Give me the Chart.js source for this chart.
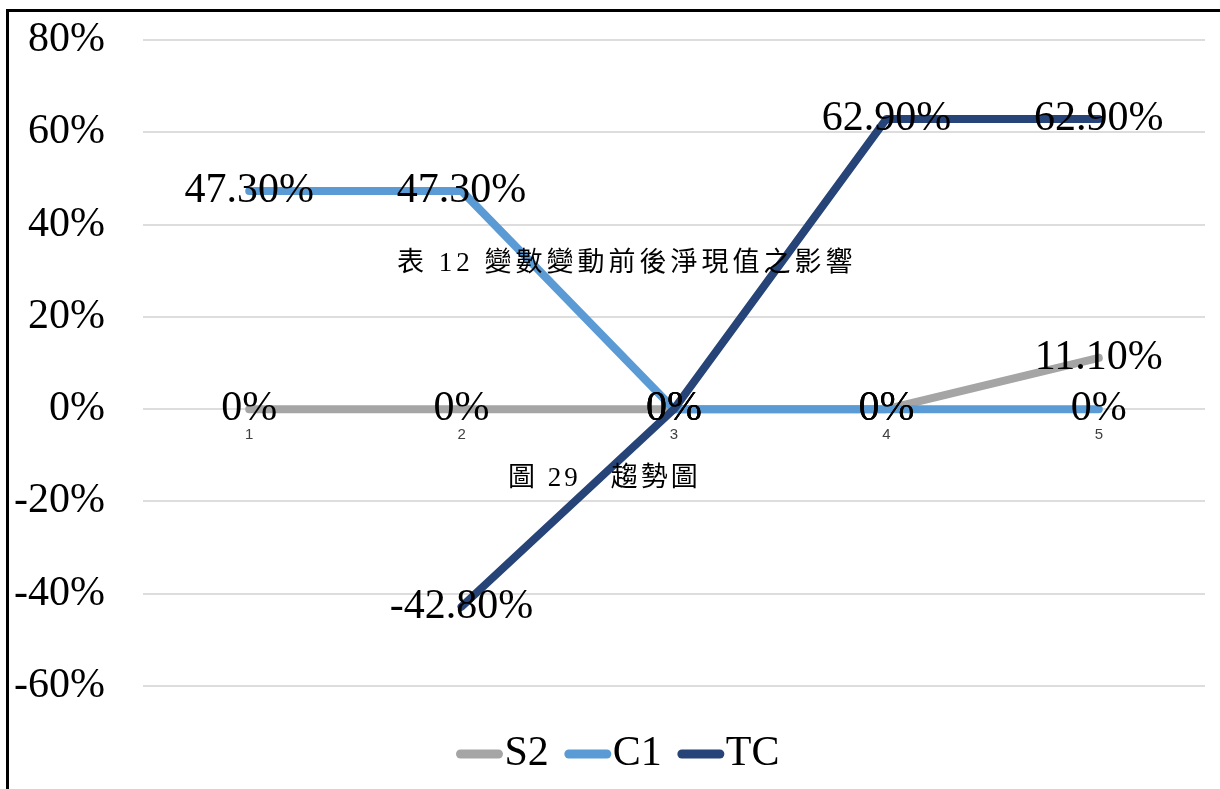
<!DOCTYPE html>
<html lang="zh-Hant">
<head>
<meta charset="utf-8">
<title>趨勢圖</title>
<script src="https://cdn.jsdelivr.net/npm/chart.js@4.4.1/dist/chart.umd.min.js"></script>
<style>
    html, body { margin: 0; padding: 0; background: #fff; overflow: hidden; }
    #wrap { position: relative; width: 1220px; height: 789px; overflow: hidden; }
    #frame {
        position: absolute; left: 6px; top: 9px; width: 1300px; height: 900px;
        border: 3px solid #000; box-sizing: border-box; pointer-events: none;
    }
    .caption {
        position: absolute; font-family: "Liberation Serif", "Noto Sans CJK TC", serif;
        font-size: 27px; line-height: 27px; color: #000; white-space: pre;
    }
</style>
</head>
<body>
<div id="wrap">
    <canvas id="trendChart"></canvas>
    <div id="frame"></div>
    <div class="caption" style="left:397px; top:249px; letter-spacing:4px;">表 12 變數變動前後淨現值之影響</div>
    <div class="caption" style="left:508px; top:464px; letter-spacing:3px;">圖 29　趨勢圖</div>
</div>
<script>
// data (percent)
const categories = ['1', '2', '3', '4', '5'];
const s2Values = [0, 0, 0, 0, 11.1];
const c1Values = [47.3, 47.3, 0, 0, 0];
const tcValues = [null, -42.8, 0, 62.9, 62.9];
const yTicks = [-60, -40, -20, 0, 20, 40, 60, 80];

const lineColors = ['#A5A5A5', '#5B9BD5', '#264478'];
const serifFont = "'Liberation Serif', 'Times New Roman', serif";
const textSize = 42;

function formatPercent(v) {
    return v === 0 ? '0%' : v.toFixed(2) + '%';
}

// value printed in the middle of each point
const pointLabels = {
    id: 'pointLabels',
    afterDatasetsDraw(chart) {
        const ctx = chart.ctx;
        ctx.save();
        ctx.font = textSize + 'px ' + serifFont;
        ctx.fillStyle = '#000';
        ctx.textAlign = 'center';
        ctx.textBaseline = 'middle';
        chart.data.datasets.forEach((ds, i) => {
            const meta = chart.getDatasetMeta(i);
            meta.data.forEach((pt, j) => {
                const v = ds.data[j];
                if (v === null) return;
                ctx.fillText(formatPercent(v), pt.x, pt.y);
            });
        });
        ctx.restore();
    }
};

// legend with short round-capped line samples, text right next to them
const lineLegend = {
    id: 'lineLegend',
    afterDraw(chart) {
        const ctx = chart.ctx;
        const sampleLen = 42;
        const gap = 6;
        const spacing = 16;
        ctx.save();
        ctx.font = textSize + 'px ' + serifFont;
        const items = chart.data.datasets.map(ds => ({
            text: ds.label,
            color: ds.borderColor,
            width: sampleLen + gap + ctx.measureText(ds.label).width
        }));
        const total = items.reduce((sum, it) => sum + it.width, 0) + spacing * (items.length - 1);
        let x = chart.width / 2 + 8 - total / 2;
        const y = chart.chartArea.bottom + 68;
        ctx.textBaseline = 'middle';
        ctx.textAlign = 'left';
        items.forEach(it => {
            ctx.beginPath();
            ctx.lineWidth = 9;
            ctx.lineCap = 'round';
            ctx.strokeStyle = it.color;
            ctx.moveTo(x + 4, y);
            ctx.lineTo(x + sampleLen, y);
            ctx.stroke();
            ctx.fillStyle = '#000';
            ctx.fillText(it.text, x + sampleLen + gap, y);
            x += it.width + spacing;
        });
        ctx.restore();
    }
};

new Chart(document.getElementById('trendChart'), {
    type: 'line',
    data: {
        labels: categories,
        datasets: [
            { label: 'S2', data: s2Values, borderColor: lineColors[0], backgroundColor: lineColors[0], order: 3 },
            { label: 'C1', data: c1Values, borderColor: lineColors[1], backgroundColor: lineColors[1], order: 2 },
            { label: 'TC', data: tcValues, borderColor: lineColors[2], backgroundColor: lineColors[2], order: 1 }
        ]
    },
    options: {
        responsive: true,
        maintainAspectRatio: false,
        animation: false,
        layout: { padding: { top: 40, right: 15, bottom: 103, left: 0 } },
        elements: {
            line: { borderWidth: 8, tension: 0, borderCapStyle: 'round', borderJoinStyle: 'round', fill: false },
            point: { radius: 0, hoverRadius: 0 }
        },
        scales: {
            x: {
                position: { y: 0 },
                offset: true,
                grid: { display: false, drawTicks: false },
                border: { display: false },
                ticks: {
                    padding: 17,
                    color: '#404040',
                    font: { family: "'Liberation Sans', sans-serif", size: 15 }
                }
            },
            y: {
                min: yTicks[0],
                max: yTicks[yTicks.length - 1],
                afterBuildTicks(scale) {
                    scale.ticks = yTicks.map(v => ({ value: v }));
                },
                afterFit(scale) {
                    // fixed axis width; the layout padding already leaves room for the end labels
                    scale.width = 143;
                    scale.paddingTop = 0;
                    scale.paddingBottom = 0;
                },
                grid: { color: '#DDDDDD', lineWidth: 2, drawTicks: false },
                border: { display: false },
                ticks: {
                    padding: 38,
                    color: '#000',
                    font: { family: serifFont, size: textSize },
                    callback: v => v + '%'
                }
            }
        },
        plugins: {
            legend: { display: false },
            tooltip: { enabled: false }
        }
    },
    plugins: [pointLabels, lineLegend]
});
</script>
</body>
</html>
